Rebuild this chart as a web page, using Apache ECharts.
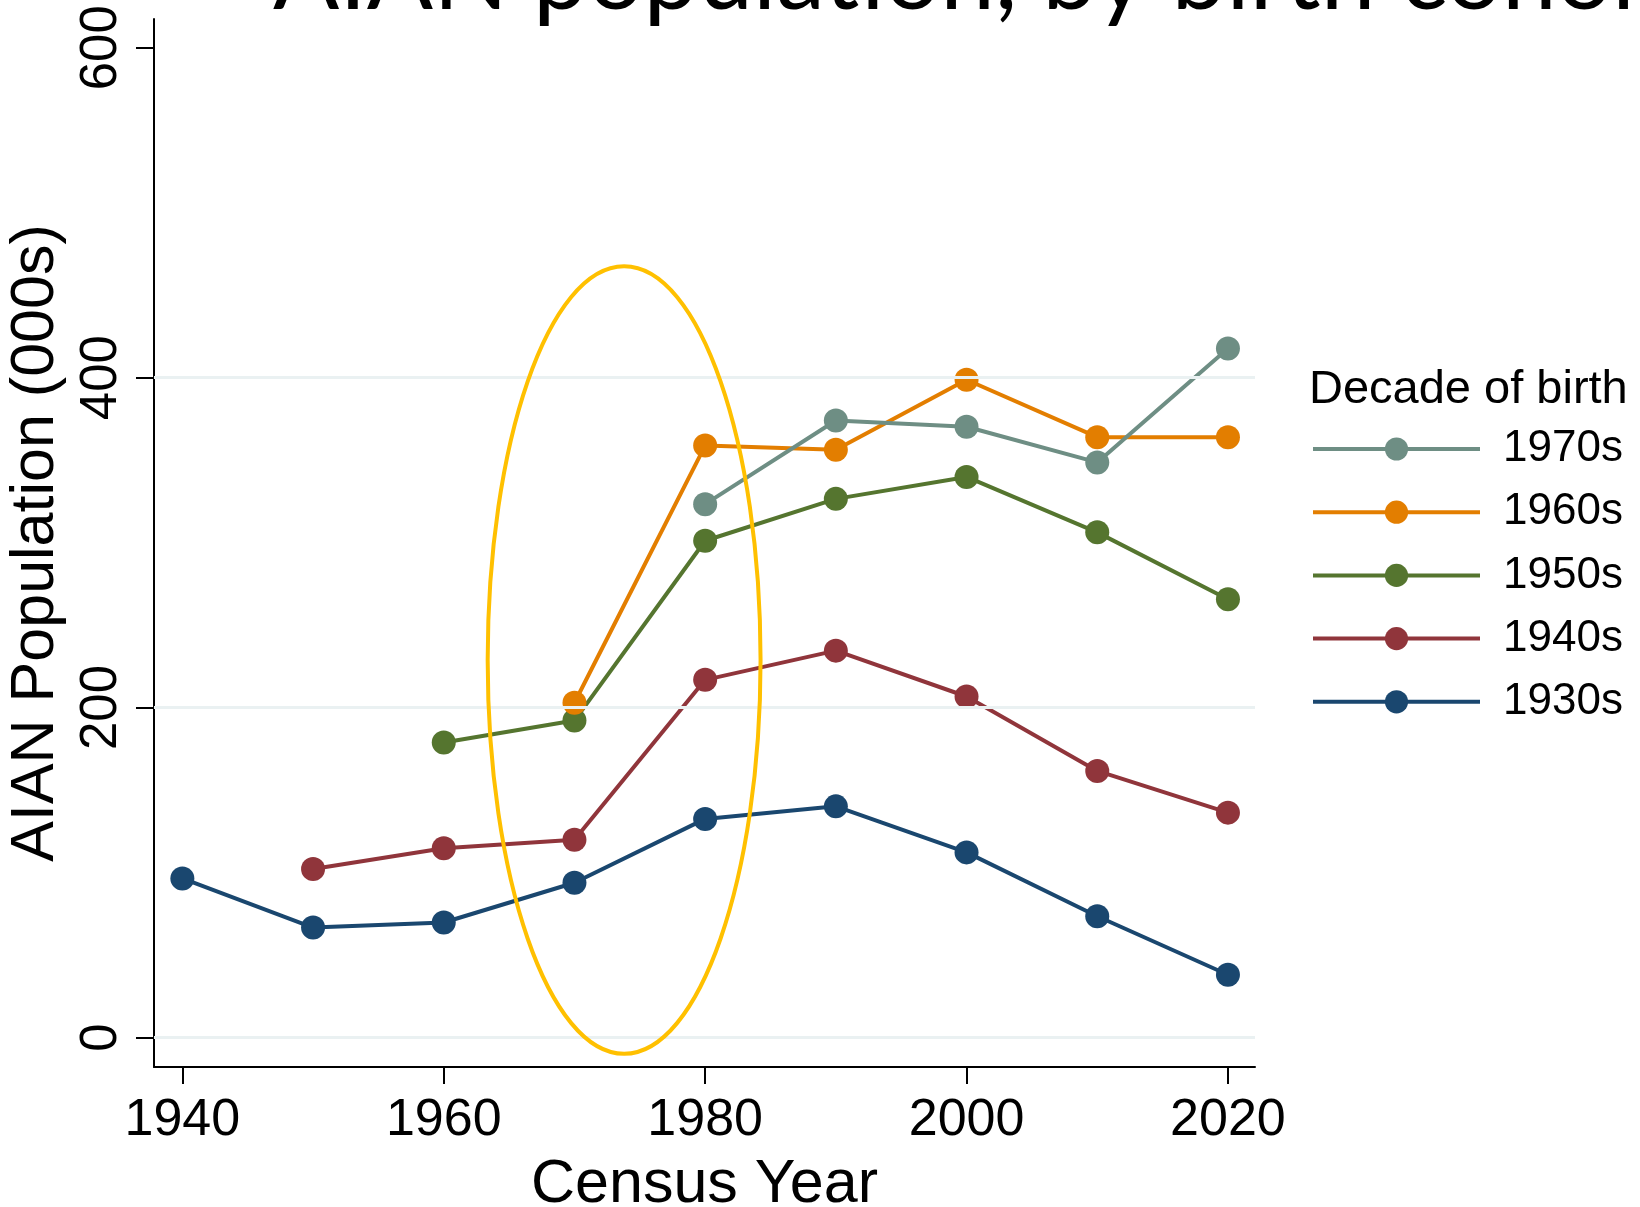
<!DOCTYPE html>
<html><head><meta charset="utf-8">
<script src="https://cdn.jsdelivr.net/npm/echarts@6/dist/echarts.min.js"></script>
<style>html,body{margin:0;padding:0;background:#fff}#c{width:1640px;height:1207px}</style>
</head><body><div id="c"></div>
<script>
// ---- data ----
const years = [1940, 1950, 1960, 1970, 1980, 1990, 2000, 2010, 2020];
const cohortNames = ['1970s', '1960s', '1950s', '1940s', '1930s'];
const pop1930s = [96.4, 66.6, 69.7, 93.8, 132.5, 140.1, 112.2, 73.5, 38.0];
const pop1940s = [null, 102.1, 114.7, 119.8, 216.8, 234.5, 206.7, 161.6, 136.3];
const pop1950s = [null, null, 178.8, 192.1, 301.1, 326.5, 339.8, 306.2, 265.6];
const pop1960s = [null, null, null, 202.9, 358.8, 356.3, 398.7, 363.9, 363.9];
const pop1970s = [null, null, null, null, 323.3, 374.0, 370.2, 348.6, 417.7];
const xTicks = [1940, 1960, 1980, 2000, 2020];
const yTicks = [0, 200, 400, 600];
const gridValues = [0, 200, 400];
const titleText = 'AIAN population, by birth cohort';
const yTitle = 'AIAN Population (000s)';
const xTitle = 'Census Year';
const legendTitle = 'Decade of birth';
// highlight ellipse annotation in data units: center [year, value], radii [years, value]
const ellipseCenter = [1973.8, 228.8];
const ellipseRadii = [10.44, 238.7];

const seriesValues = {
  '1970s': pop1970s, '1960s': pop1960s, '1950s': pop1950s, '1940s': pop1940s, '1930s': pop1930s
};
const colors = {
  '1930s': '#1a476f', '1940s': '#90353b', '1950s': '#55752f', '1960s': '#e37e00', '1970s': '#6e8e84'
};
const FONT = '"Liberation Sans", Arial, Helvetica, sans-serif';

function pairs(vals) {
  const out = [];
  vals.forEach((v, i) => { if (v != null) out.push([years[i], v]); });
  return out;
}

const drawOrder = ['1930s', '1940s', '1950s', '1960s', '1970s'];
const series = drawOrder.map((name) => ({
  name: name,
  type: 'line',
  data: pairs(seriesValues[name]),
  symbol: 'circle',
  symbolSize: 24,
  lineStyle: { color: colors[name], width: 4 },
  itemStyle: { color: colors[name] },
  emphasis: { disabled: true },
  animation: false,
  z: 3
}));
series.unshift({
  name: 'grid',
  type: 'line',
  data: [],
  silent: true,
  animation: false,
  markLine: {
    silent: true,
    symbol: 'none',
    label: { show: false },
    lineStyle: { color: '#eaf1f2', width: 3, type: 'solid' },
    data: gridValues.map(v => ({ yAxis: v }))
  },
  z: 1
});

const chart = echarts.init(document.getElementById('c'), null, { renderer: 'canvas' });
chart.setOption({
  backgroundColor: '#fff',
  animation: false,
  title: [
    { text: legendTitle, left: 1304, top: 362,
      textStyle: { fontFamily: FONT, fontWeight: 'normal', fontSize: 47, color: '#000' } }
  ],
  legend: {
    data: cohortNames,
    orient: 'vertical',
    left: 1306,
    top: 422,
    itemWidth: 167,
    itemHeight: 29,
    itemGap: 19.2,
    lineStyle: { width: 4 },
    textStyle: { fontFamily: FONT, fontSize: 44, color: '#000', padding: [0, 0, 0, 18] },
    selectedMode: false
  },
  grid: { left: 154, top: 19, width: 1101, height: 1048, containLabel: false, outerBoundsMode: 'none' },
  xAxis: {
    type: 'value',
    min: 1937.83, max: 2022.07,
    name: xTitle, nameLocation: 'middle', nameGap: 88,
    nameTextStyle: { fontFamily: FONT, fontSize: 61, color: '#000' },
    axisLine: { show: true, onZero: false, lineStyle: { color: '#000', width: 2 } },
    axisTick: { show: true, length: 17, customValues: xTicks, lineStyle: { color: '#000', width: 2 } },
    axisLabel: { customValues: xTicks, formatter: v => String(v), margin: 28,
      fontFamily: FONT, fontSize: 52, color: '#000' },
    splitLine: { show: false }
  },
  yAxis: {
    type: 'value',
    min: -17.9, max: 617.4,
    name: yTitle, nameLocation: 'middle', nameGap: 87,
    nameTextStyle: { fontFamily: FONT, fontSize: 61, color: '#000' },
    axisLine: { show: true, onZero: false, lineStyle: { color: '#000', width: 2 } },
    axisTick: { show: true, length: 18, customValues: yTicks, lineStyle: { color: '#000', width: 2 } },
    axisLabel: { customValues: yTicks, rotate: 90, margin: 27, formatter: v => String(v),
      fontFamily: FONT, fontSize: 51, color: '#000' },
    splitLine: { show: false }
  },
  series: series
});

const c = chart.convertToPixel({ gridIndex: 0 }, ellipseCenter);
const e = chart.convertToPixel({ gridIndex: 0 }, [ellipseCenter[0] + ellipseRadii[0], ellipseCenter[1] + ellipseRadii[1]]);
chart.setOption({
  graphic: [{
    type: 'ellipse', z: 100, silent: true,
    shape: { cx: c[0], cy: c[1], rx: e[0] - c[0], ry: c[1] - e[1] },
    style: { fill: null, stroke: '#ffc000', lineWidth: 4 }
  }, {
    type: 'text', z: 50, silent: true, x: 273, y: 26,
    style: { text: titleText, fill: '#000', fontFamily: 'Lato, "Noto Sans", sans-serif',
      fontSize: 98, fontWeight: 'normal', verticalAlign: 'bottom', align: 'left' }
  }]
});
</script></body></html>
